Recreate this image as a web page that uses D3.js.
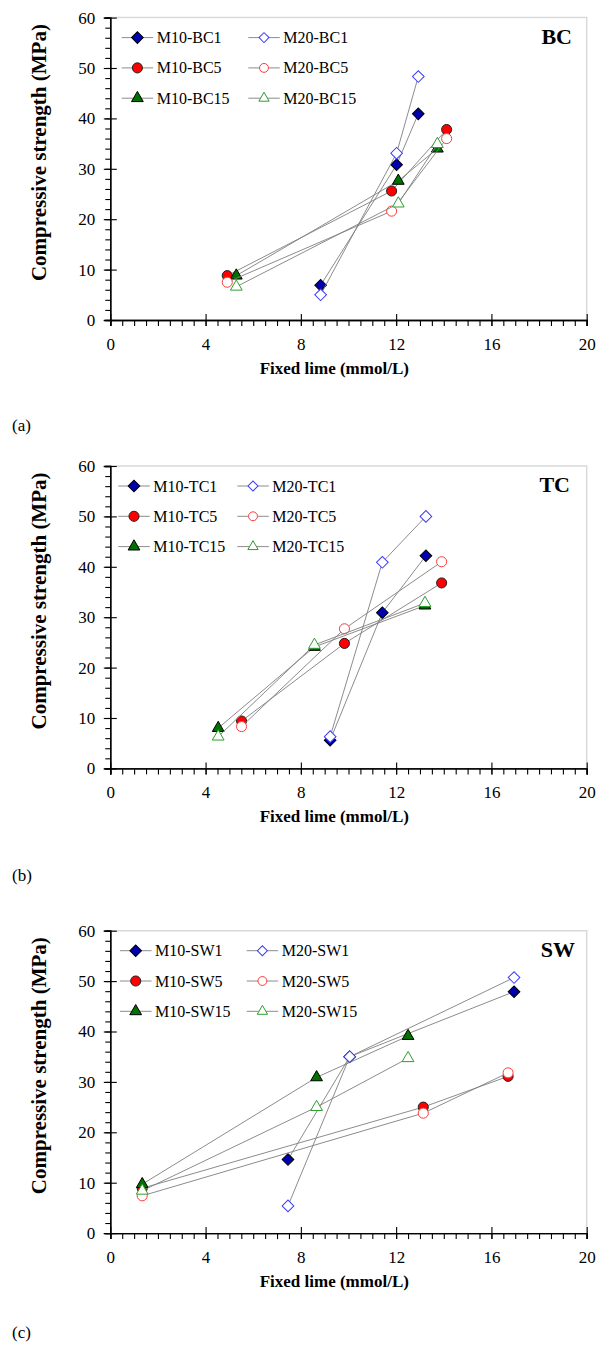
<!DOCTYPE html>
<html>
<head>
<meta charset="utf-8">
<script src="https://cdn.jsdelivr.net/npm/d3@7"></script>
<style>
  body { margin: 0; background: #fff; }
  svg { display: block; font-family: "Liberation Serif", "Times New Roman", serif; }
</style>
</head>
<body>
<div id="wrapper"></div>
<script>
// Data

const xTicks = [0, 4, 8, 12, 16, 20]
const yTicks = [0, 10, 20, 30, 40, 50, 60]
const panelIds = ["BC", "TC", "SW"]
const panelTags = ["(a)", "(b)", "(c)"]

const bcNames = ["M10-BC1", "M20-BC1", "M10-BC5", "M20-BC5", "M10-BC15", "M20-BC15"]
const bcPoints = [
    [[8.83, 6.9], [12.02, 30.8], [12.93, 40.9]],
    [[8.83, 5.0], [12.02, 33.1], [12.93, 48.3]],
    [[4.91, 8.8], [11.81, 25.6], [14.12, 37.8]],
    [[4.91, 7.5], [11.81, 21.6], [14.12, 36.0]],
    [[5.29, 8.8], [12.09, 27.6], [13.73, 34.0]],
    [[5.29, 6.6], [12.09, 23.1], [13.73, 34.9]],
]

const tcNames = ["M10-TC1", "M20-TC1", "M10-TC5", "M20-TC5", "M10-TC15", "M20-TC15"]
const tcPoints = [
    [[9.23, 5.6], [11.42, 30.9], [13.25, 42.2]],
    [[9.23, 6.3], [11.42, 40.9], [13.25, 50.0]],
    [[5.51, 9.4], [9.83, 24.8], [13.91, 36.8]],
    [[5.51, 8.3], [9.83, 27.7], [13.91, 41.0]],
    [[4.53, 8.0], [8.57, 24.1], [13.21, 32.3]],
    [[4.53, 6.3], [8.57, 24.5], [13.21, 32.8]],
]

const swNames = ["M10-SW1", "M20-SW1", "M10-SW5", "M20-SW5", "M10-SW15", "M20-SW15"]
const swPoints = [
    [[7.46, 14.6], [10.05, 35.0], [16.95, 47.9]],
    [[7.46, 5.4], [10.05, 35.0], [16.95, 50.7]],
    [[1.34, 8.9], [13.14, 25.0], [16.7, 31.1]],
    [[1.34, 7.4], [13.14, 23.8], [16.7, 31.8]],
    [[1.34, 9.7], [8.66, 30.9], [12.5, 39.1]],
    [[1.34, 8.4], [8.66, 25.0], [12.5, 34.7]],
]

const panelNames = [bcNames, tcNames, swNames]
const panelPoints = [bcPoints, tcPoints, swPoints]

// Marker styles, same order as the series
const markerStyles = [
    { shape: "diamond", fill: "#0000B0", stroke: "#000" },
    { shape: "diamond", fill: "#fff", stroke: "#3B3BFF" },
    { shape: "circle", fill: "#FF0000", stroke: "#222" },
    { shape: "circle", fill: "#fff", stroke: "#FF3B3B" },
    { shape: "triangle", fill: "#007000", stroke: "#000" },
    { shape: "triangle", fill: "#fff", stroke: "#2E9E2E" },
]
const drawOrder = [0, 2, 4, 1, 3, 5]

// Dimensions

let dimensions = {
    width: 599,
    height: 1350,
    left: 110.3,
    plotWidth: 476.4,
    plotHeight: 302.4,
}
const panelTops = [17.6, 466, 930.7]
const tagY = [431, 881, 1338]
const legendCols = [[121.7, 248.3], [118.3, 237.3], [120, 246.7]]
const labelRight = [572, 570, 575]

const wrapper = d3.select("#wrapper")
    .append("svg")
    .attr("width", dimensions.width)
    .attr("height", dimensions.height)

const xScale = d3.scaleLinear()
    .domain([0, 20])
    .range([0, dimensions.plotWidth])

const yScale = d3.scaleLinear()
    .domain([0, 60])
    .range([dimensions.plotHeight, 0])

const symbolPath = (shape, big) => {
    if (shape == "diamond") return d3.symbol(d3.symbolSquare, big ? 68 : 50)()
    if (shape == "circle") return d3.symbol(d3.symbolCircle, big ? 80 : 62)()
    return d3.symbol(d3.symbolTriangle, big ? 60 : 46)()
}
const symbolRotate = shape => shape == "diamond" ? "rotate(45)" : ""

panelIds.forEach((id, p) => {
    const bounds = wrapper.append("g")
        .attr("transform", `translate(${dimensions.left}, ${panelTops[p]})`)

    // frame (top and right in light grey)
    bounds.append("path")
        .attr("d", `M0,0H${dimensions.plotWidth}V${dimensions.plotHeight}`)
        .attr("fill", "none")
        .attr("stroke", "#D9D9D9")
        .attr("stroke-width", 1.5)

    // y axis: minor ticks, major ticks crossing
    const yMinor = bounds.append("g")
        .call(d3.axisLeft(yScale).tickValues(d3.range(0, 61, 2)).tickSize(5).tickFormat(""))
    const yMajor = bounds.append("g")
        .call(d3.axisLeft(yScale).tickValues(yTicks).tickSize(6.5).tickPadding(8.5))
    const yMajorIn = bounds.append("g")
        .call(d3.axisRight(yScale).tickValues(yTicks).tickSize(6.5).tickFormat(""))
    yMajorIn.select(".domain").remove()

    const xMinor = bounds.append("g")
        .attr("transform", `translate(0, ${dimensions.plotHeight})`)
        .call(d3.axisBottom(xScale).tickValues(d3.range(0, 20.01, 0.5)).tickSize(6).tickFormat(""))
    const xMajor = bounds.append("g")
        .attr("transform", `translate(0, ${dimensions.plotHeight})`)
        .call(d3.axisBottom(xScale).tickValues(xTicks).tickSize(6).tickPadding(11.5))
    const xMajorIn = bounds.append("g")
        .attr("transform", `translate(0, ${dimensions.plotHeight})`)
        .call(d3.axisTop(xScale).tickValues(xTicks).tickSize(6).tickFormat(""))
    xMajorIn.select(".domain").remove()

    bounds.selectAll(".domain").attr("stroke", "#000").attr("stroke-width", 1.3)
    bounds.selectAll(".tick line").attr("stroke", "#000").attr("stroke-width", 1.1)
    bounds.selectAll(".tick text")
        .attr("font-family", "Liberation Serif")
        .attr("font-size", 17)
        .attr("fill", "#000")

    // axis titles
    bounds.append("text")
        .attr("x", 224)
        .attr("y", dimensions.plotHeight + 54)
        .attr("text-anchor", "middle")
        .attr("font-weight", "bold")
        .attr("font-size", 17)
        .text("Fixed lime (mmol/L)")

    bounds.append("text")
        .attr("transform", `translate(${46 - dimensions.left}, 135) rotate(-90)`)
        .attr("text-anchor", "middle")
        .attr("font-weight", "bold")
        .attr("font-size", 21)
        .text("Compressive strength (MPa)")

    // panel label
    bounds.append("text")
        .attr("x", labelRight[p] - dimensions.left)
        .attr("y", 26)
        .attr("text-anchor", "end")
        .attr("font-weight", "bold")
        .attr("font-size", 22)
        .text(id)

    // series
    const names = panelNames[p]
    const points = panelPoints[p]
    const lineGenerator = d3.line()
        .x(d => xScale(d[0]))
        .y(d => yScale(d[1]))

    drawOrder.forEach(i => {
        const style = markerStyles[i]
        const g = bounds.append("g")
        g.append("path")
            .attr("d", lineGenerator(points[i]))
            .attr("fill", "none")
            .attr("stroke", "#7F7F7F")
            .attr("stroke-width", 0.9)
        g.selectAll("path.marker")
            .data(points[i])
            .join("path")
                .attr("class", "marker")
                .attr("d", symbolPath(style.shape, true))
                .attr("transform", d => `translate(${xScale(d[0])}, ${yScale(d[1])}) ${symbolRotate(style.shape)}`)
                .attr("fill", style.fill)
                .attr("stroke", style.stroke)
                .attr("stroke-width", 1)
    })

    // legend
    const legend = bounds.append("g")
    names.forEach((name, i) => {
        const style = markerStyles[i]
        const row = Math.floor(i / 2)
        const x0 = legendCols[p][i % 2] - dimensions.left
        const y0 = 20 + row * 30.3
        const item = legend.append("g")
            .attr("transform", `translate(${x0}, ${y0})`)
        item.append("line")
            .attr("x1", 0).attr("x2", 31.5)
            .attr("stroke", "#7F7F7F")
            .attr("stroke-width", 0.9)
        item.append("path")
            .attr("d", symbolPath(style.shape, i % 2 == 0))
            .attr("transform", `translate(15.7, 0) ${symbolRotate(style.shape)}`)
            .attr("fill", style.fill)
            .attr("stroke", style.stroke)
        item.append("text")
            .attr("x", 35)
            .attr("y", 5.5)
            .attr("font-size", 16)
            .text(name)
    })

    // tag
    wrapper.append("text")
        .attr("x", 12)
        .attr("y", tagY[p])
        .attr("font-size", 17)
        .text(panelTags[p])
})
</script>
</body>
</html>
